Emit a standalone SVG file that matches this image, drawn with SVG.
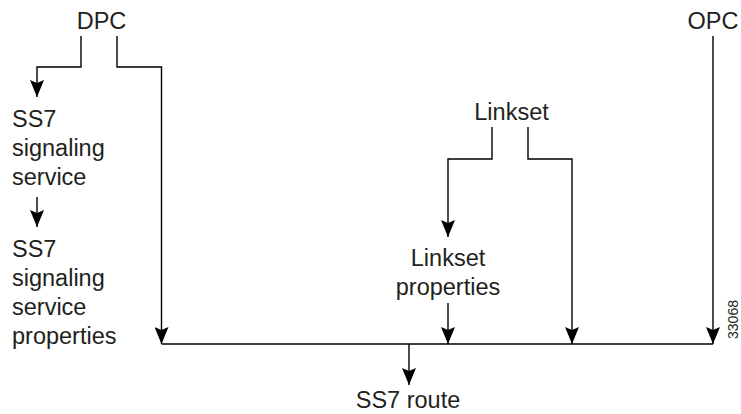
<svg xmlns="http://www.w3.org/2000/svg" width="741" height="414" viewBox="0 0 741 414">
  <style>
    .t { font-family: "Liberation Sans", Arial, Helvetica, sans-serif; font-size: 23.5px; fill: #231f20; }
    .m { text-anchor: middle; }
    .c { fill: none; stroke: #000; stroke-width: 1.4; }
    .id { font-family: "Liberation Sans", Arial, sans-serif; font-size: 14px; fill: #231f20; }
  </style>
  <defs>
    <marker id="ah" markerUnits="userSpaceOnUse" viewBox="0 0 17 14" refX="17" refY="7" markerWidth="17" markerHeight="14" orient="auto">
      <path d="M0,0 L17,7 L0,14 L3,7 z" fill="#000"/>
    </marker>
  </defs>
  <rect width="741" height="414" fill="#fff"/>

  <g id="dpc"><text class="t m" x="101.5" y="29">DPC</text></g>
  <g id="opc"><text class="t m" x="713" y="29">OPC</text></g>
  <g id="ss7-service">
    <text class="t" x="12" y="127">SS7</text>
    <text class="t" x="12" y="156">signaling</text>
    <text class="t" x="12" y="185">service</text>
  </g>
  <g id="ss7-service-properties">
    <text class="t" x="12" y="257">SS7</text>
    <text class="t" x="12" y="286">signaling</text>
    <text class="t" x="12" y="315">service</text>
    <text class="t" x="12" y="344">properties</text>
  </g>
  <g id="linkset"><text class="t m" x="511.5" y="120">Linkset</text></g>
  <g id="linkset-properties">
    <text class="t m" x="448" y="266">Linkset</text>
    <text class="t m" x="448" y="295">properties</text>
  </g>
  <g id="ss7-route"><text class="t m" x="408" y="408">SS7 route</text></g>
  <g id="figure-id"><text class="id m" transform="translate(738,319.5) rotate(-90)">33068</text></g>

  <g id="connectors">
    <path class="c" d="M81,36 V67 H37 V97" marker-end="url(#ah)"/>
    <path class="c" d="M117,36 V67 H161.5 V344" marker-end="url(#ah)"/>
    <path class="c" d="M37,197 V227" marker-end="url(#ah)"/>
    <path class="c" d="M492,127 V159 H448 V237" marker-end="url(#ah)"/>
    <path class="c" d="M528,127 V159 H572 V344" marker-end="url(#ah)"/>
    <path class="c" d="M448,303 V344" marker-end="url(#ah)"/>
    <path class="c" d="M713,36 V344" marker-end="url(#ah)"/>
    <path class="c" d="M161.5,344 H713"/>
    <path class="c" d="M409,344 V385" marker-end="url(#ah)"/>
  </g>
</svg>
